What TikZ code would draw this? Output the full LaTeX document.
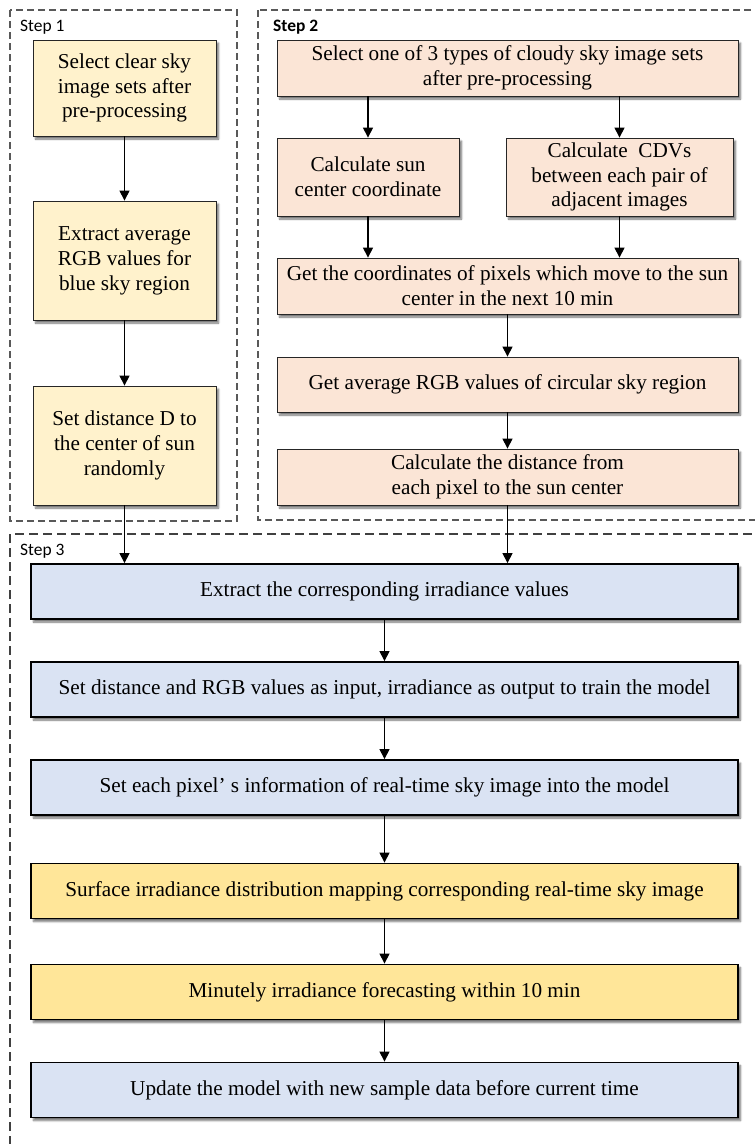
\documentclass[tikz,border=0pt]{standalone}
\usepackage{fontspec}
\setmainfont{Liberation Serif}
\newfontfamily\stepfont{Carlito}
\usetikzlibrary{arrows.meta,shadows.blur}
\definecolor{yel}{HTML}{FFF2CC}
\definecolor{peach}{HTML}{FBE5D6}
\definecolor{lblue}{HTML}{DAE3F3}
\definecolor{gold}{HTML}{FFE699}
\newcommand\fs{\fontsize{21.3}{25}\selectfont}
\begin{document}
\begin{tikzpicture}[x=1bp,y=-1bp,
  box/.style={draw=black!85, line width=0.8bp, inner sep=0pt, align=center, font=\fs,
    blur shadow={shadow xshift=2.5bp,shadow yshift=-3bp,shadow blur steps=6,shadow opacity=55}},
  ybox/.style={box, fill=yel},
  pbox/.style={box, fill=peach},
  bbox/.style={box, fill=lblue, draw=black, line width=1.8bp,
    minimum width=707bp, minimum height=55bp},
  gbox/.style={bbox, fill=gold},
  arr/.style={-{Triangle[length=10bp,width=10bp]}, line width=1.1bp},
  frameA/.style={draw=black!65, line width=1.1bp, dash pattern=on 7bp off 4bp},
  frameB/.style={draw=black!75, line width=1.4bp, dash pattern=on 9bp off 5bp},
  steplabel/.style={font=\stepfont\fontsize{17.5}{19}\selectfont, anchor=west, inner sep=0pt}
]
\useasboundingbox (0,0) rectangle (755,1144);
\begin{scope}
\clip (0,0) rectangle (755,1144);
\draw[frameA] (10,10) rectangle (237,521);
\draw[frameA] (258,10) rectangle (770,520);
\draw[frameB] (10,534) rectangle (770,1160);
\end{scope}
\node[steplabel] (l1) at (20,27) {Step 1};
\node[steplabel] (l2) at (273,27) {\bfseries Step 2};
\node[steplabel] (l3) at (20,551) {Step 3};

% Step 1
\node[ybox, minimum width=183bp, minimum height=96bp] (s1a) at (124.5,88) {Select clear sky\\image sets after\\pre-processing};
\node[ybox, minimum width=183bp, minimum height=119bp] (s1b) at (124.5,260.5) {Extract average\\RGB values for\\blue sky region};
\node[ybox, minimum width=183bp, minimum height=119bp] (s1c) at (124.5,445.5) {Set distance D to\\the center of sun\\randomly};

% Step 2
\node[pbox, minimum width=461bp, minimum height=56bp] (s2a) at (507.5,68) {Select one of 3 types of cloudy sky image sets\\after pre-processing};
\node[pbox, minimum width=182bp, minimum height=78bp] (s2b) at (368,177) {Calculate sun\\center coordinate};
\node[pbox, minimum width=227bp, minimum height=78bp] (s2c) at (619.5,177) {Calculate\ \ CDVs\\between each pair of\\adjacent images};
\node[pbox, minimum width=461bp, minimum height=56bp] (s2d) at (507.5,286) {Get the coordinates of pixels which move to the sun\\center in the next 10 min};
\node[pbox, minimum width=461bp, minimum height=55bp] (s2e) at (507.5,384.5) {Get average RGB values of circular sky region};
\node[pbox, minimum width=461bp, minimum height=56bp] (s2f) at (507.5,477) {Calculate the distance from\\each pixel to the sun center};

% Step 3
\node[bbox] (s3a) at (384.5,591.5) {Extract the corresponding irradiance values};
\node[bbox] (s3b) at (384.5,689.5) {Set distance and RGB values as input, irradiance as output to train the model};
\node[bbox] (s3c) at (384.5,787.5) {Set each pixel’\ s information of real-time sky image into the model};
\node[gbox] (s3d) at (384.5,891) {Surface irradiance distribution mapping corresponding real-time sky image};
\node[gbox] (s3e) at (384.5,992) {Minutely irradiance forecasting within 10 min};
\node[bbox] (s3f) at (384.5,1090) {Update the model with new sample data before current time};

% arrows
\draw[arr] (s1a) -- (s1b);
\draw[arr] (s1b) -- (s1c);
\draw[arr] (s1c) -- (s1c |- s3a.north);
\draw[arr] (s2a.south -| s2b) -- (s2b);
\draw[arr] (s2a.south -| s2c) -- (s2c);
\draw[arr] (s2b) -- (s2b |- s2d.north);
\draw[arr] (s2c) -- (s2c |- s2d.north);
\draw[arr] (s2d) -- (s2e);
\draw[arr] (s2e) -- (s2f);
\draw[arr] (s2f) -- (s2f |- s3a.north);
\draw[arr] (s3a) -- (s3b);
\draw[arr] (s3b) -- (s3c);
\draw[arr] (s3c) -- (s3d);
\draw[arr] (s3d) -- (s3e);
\draw[arr] (s3e) -- (s3f);
\end{tikzpicture}
\end{document}
